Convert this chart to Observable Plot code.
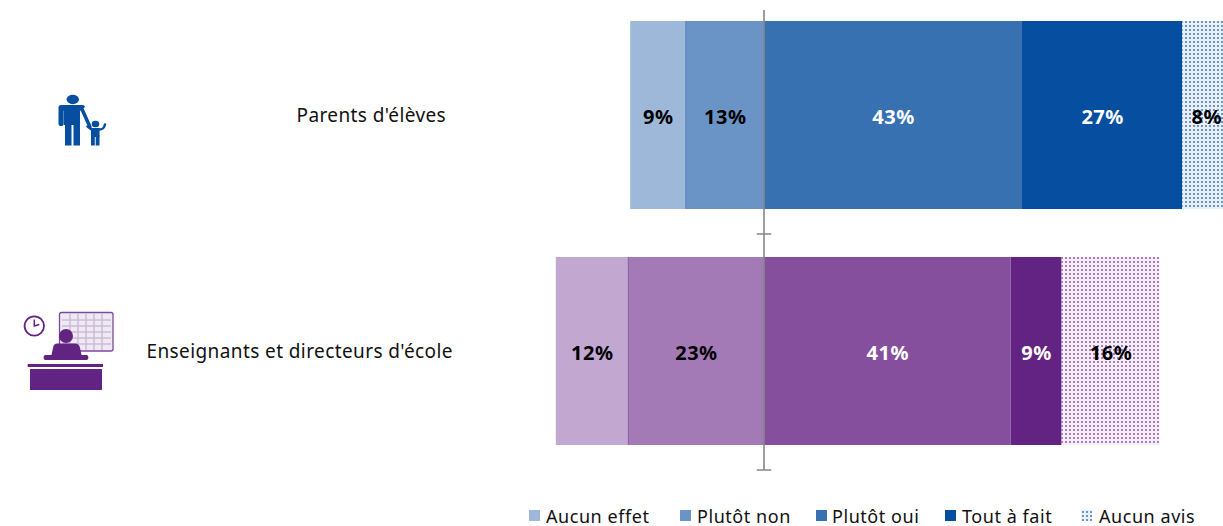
<!DOCTYPE html>
<html lang="fr">
<head>
<meta charset="utf-8">
<script src="https://cdn.jsdelivr.net/npm/d3@7"></script>
<script src="https://cdn.jsdelivr.net/npm/@observablehq/plot@0.6"></script>
<style>
  html, body { margin: 0; padding: 0; background: #fff; overflow: hidden; }
  #legend { position: relative; height: 26px; width: 1223px; font: 18px "Noto Sans", sans-serif; letter-spacing: .55px; color: #111; }
  #legend span { position: absolute; top: 3px; line-height: 26px; white-space: nowrap; }
  #legend svg { position: absolute; top: 10px; }
  svg { display: block; }
</style>
</head>
<body>
<div id="chart"></div>
<div id="legend"></div>
<script>
const groups = ["Parents d'élèves", "Enseignants et directeurs d'école"];
const responses = ["Aucun effet", "Plutôt non", "Plutôt oui", "Tout à fait", "Aucun avis"];
const parentsValues = [9.2, 13.1, 43, 26.7, 8];
const teachersValues = [12, 22.7, 41.1, 8.5, 16.3];
const parentsColors = ["#9db8d9", "#6a94c6", "#3771b1", "#064ea0", "url(#dotsBlue)"];
const teachersColors = ["#c2a8d1", "#a47ab6", "#854f9e", "#632383", "url(#dotsPurple)"];
const labelColors = ["#000", "#000", "#fff", "#fff", "#000"];
const dividerColors = ["#4f80ba", "#8f5faa"];
const legendSwatchX = [529, 680, 816, 945, 1081];
const legendTextX = [546, 697, 832, 962, 1099];
const labelStart = [296, 146];
const font = '"Noto Sans", sans-serif';

const rows = [];
[parentsValues, teachersValues].forEach((vals, g) => {
  // the two first answers stack to the left of the axis
  let acc = -(vals[0] + vals[1]);
  vals.forEach((v, i) => {
    const c = (g === 0 ? parentsColors : teachersColors)[i];
    rows.push({group: groups[g], response: responses[i], value: v, x1: acc, x2: acc + v,
               fill: c, text: labelColors[i]});
    acc += v;
  });
});

const dots = (id, bg, c) => `<pattern id="${id}" width="4" height="4" patternUnits="userSpaceOnUse">
  <rect width="4" height="4" fill="${bg}"/><rect x="1" y="1" width="2" height="2" fill="${c}"/></pattern>`;

const decorations = (index, {y}) => {
  const g = document.createElementNS("http://www.w3.org/2000/svg", "g");
  const off0 = y(groups[0]) + y.bandwidth() / 2 - 115;
  const off1 = y(groups[1]) + y.bandwidth() / 2 - 351;
  g.innerHTML = `<defs>${dots("dotsBlue", "#e9f0f8", "#6d96c8")}${dots("dotsPurple", "#f5eef8", "#a97cc0")}</defs>
  <g transform="translate(0,${off0})" fill="#064ea0">
    <ellipse cx="72.8" cy="99.5" rx="6.2" ry="4.7"/>
    <rect x="58.5" y="105" width="5.2" height="21" rx="2.6"/>
    <path d="M61 105h21c1.500 0 2.500.5 3 2l-5 4v14h-16v-14l-3-2z"/>
    <rect x="65" y="122" width="6.500" height="23.500"/>
    <rect x="73.500" y="122" width="6.500" height="23.500"/>
    <path d="M81 107l9 20" stroke="#064ea0" stroke-width="3.500" fill="none" stroke-linecap="round"/>
    <ellipse cx="95.500" cy="124" rx="3.800" ry="3.300"/>
    <rect x="91" y="128" width="8.500" height="9"/>
    <rect x="91" y="135" width="3.800" height="10.500"/>
    <rect x="95.700" y="135" width="3.800" height="10.500"/>
    <path d="M91.500 129.500l-4-3M99 129.500c3 0 5-.5 6-5" stroke="#064ea0" stroke-width="2.500" fill="none" stroke-linecap="round"/>
  </g>
  <g transform="translate(0,${off1})">
    <rect x="59.500" y="312.500" width="53.500" height="38.500" rx="2" fill="#efe9f3" stroke="#7b4a99" stroke-width="1.300"/>
    <path d="M62 320h49M62 326h49M62 332h49M62 338h49M62 344h49M70 314v36M78 314v36M86 314v36M94 314v36M102 314v36" stroke="#cdbcd8" stroke-width="1.500" fill="none"/>
    <circle cx="34.300" cy="326" r="9.700" fill="#fff" stroke="#632383" stroke-width="1.800"/>
    <path d="M34.300 319.500v6.500l5-1.500" fill="none" stroke="#632383" stroke-width="1.500"/>
    <g fill="#632383">
      <circle cx="66" cy="336" r="7"/>
      <path d="M57 343.500h18c3 0 4.500 1.500 5 4.500l1.500 7h5c2.500 0 2.500 5 0 5h-41c-2.500 0-2.500-5 0-5h6l1.500-7c.5-3 1.500-4.500 4.500-4.500z"/>
      <rect x="27.700" y="364" width="75.300" height="3"/>
      <rect x="30" y="369" width="72" height="21"/>
    </g>
  </g>`;
  return g;
};

const chart = Plot.plot({
  width: 1223,
  height: 500,
  marginTop: 10,
  marginBottom: 30,
  marginLeft: 0,
  marginRight: 0,
  x: {domain: [-35, 78], range: [554, 1232], axis: null},
  y: {domain: groups, range: [-3, 469], paddingInner: 0.2034, paddingOuter: 0.1017, axis: null},
  color: {type: "identity"},
  style: {background: "#fff", overflow: "hidden"},
  marks: [
    decorations,
    Plot.rectX(rows, {x1: "x1", x2: "x2", y: "group", fill: "fill"}),
    Plot.tickX(rows.filter(d => d.response === responses[0]), {
      x: "x2", y: "group",
      stroke: d => dividerColors[groups.indexOf(d.group)], strokeWidth: 1
    }),
    Plot.ruleX([0], {stroke: "#868686", strokeWidth: 1.6, dx: -0.5}),
    Plot.ruleY(groups, {y: d => d, x1: -1.2, x2: 1.2, dy: 118.5, stroke: "#868686", strokeWidth: 1.5}),
    Plot.text(rows, {
      x: d => (d.x1 + d.x2) / 2, y: "group", text: d => Math.round(d.value) + "%",
      fill: "text", fontWeight: "bold", fontSize: 20, fontFamily: font, dy: 2
    }),
    ...groups.map((g, i) => Plot.text([g], {
      y: d => d, text: d => d, frameAnchor: "left", textAnchor: "start",
      dx: labelStart[i], dy: 0.5, fontSize: 19, fontFamily: font, fill: "#111"
    }))
  ]
});
document.getElementById("chart").append(chart);
d3.select(chart).selectAll("text").filter(function () { return groups.includes(this.textContent); })
  .style("letter-spacing", "0.4px");
d3.select(chart).selectAll("text").filter(function () { return this.textContent.endsWith("%"); })
  .style("letter-spacing", "0.5px");

const legend = d3.select("#legend");
responses.forEach((r, i) => {
  legend.append("svg").attr("width", 11).attr("height", 11).style("left", legendSwatchX[i] + "px")
    .append("rect").attr("width", 11).attr("height", 11).attr("fill", parentsColors[i]);
  legend.append("span").style("left", legendTextX[i] + "px").text(r);
});
</script>
</body>
</html>
